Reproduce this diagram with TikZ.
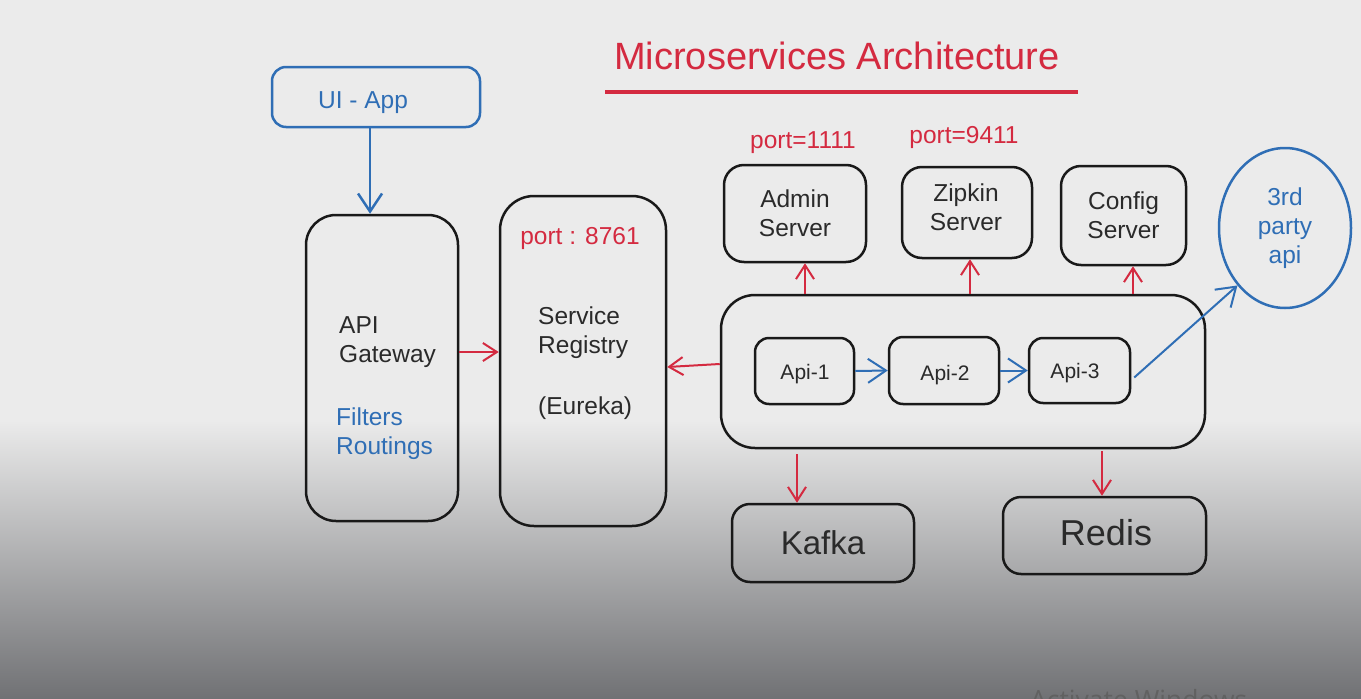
\documentclass[tikz,border=0pt]{standalone}
\usepackage{fontspec}
\setmainfont{Liberation Sans}
\newfontfamily\winfont{Open Sans}
\usetikzlibrary{arrows.meta}
\usetikzlibrary{shapes.geometric}
\definecolor{msred}{HTML}{D42A40}
\definecolor{msblue}{HTML}{2F6EB5}
\definecolor{mstext}{HTML}{2A2A2A}
\definecolor{msbg}{HTML}{EBEBEB}
\definecolor{msbot}{HTML}{707174}
\newcommand{\normtxt}{\fontsize{24.5}{29}\selectfont}
\newcommand{\apitxt}{\fontsize{21}{25}\selectfont}

\tikzset{
  box/.style={draw=black!90, line width=2.5pt, rounded corners=30pt, inner sep=0pt, text=mstext, align=center, font=\normtxt},
  smallbox/.style={box, rounded corners=14pt},
  redarrow/.style={draw=msred, line width=2pt, -{Straight Barb[length=14pt,width=18pt]}},
  bluearrow/.style={draw=msblue, line width=2.5pt, -{Straight Barb[length=18pt,width=24pt]}},
}

\begin{document}
\begin{tikzpicture}[x=1pt,y=-1pt]

\useasboundingbox (0,0) rectangle (1361,699);
\fill[msbg] (0,0) rectangle (1361,421);
\shade[top color=msbg, bottom color=msbot] (0,420) rectangle (1361,699);

\node[text=msred, font=\fontsize{38}{44}\selectfont] (title) at (837,56) {Microservices Architecture};
\draw[msred, line width=3.5pt] (605,92) -- (1078,92);

\node[smallbox, draw=msblue, minimum width=208, minimum height=60] (ui) at (376,97) {};
\node[text=msblue, inner sep=0pt, font=\normtxt] (uitxt) at (363,103) {UI - App};

\node[box, minimum width=152, minimum height=306] (gw) at (382,368) {};
\node[anchor=west, align=left, inner sep=0pt, text=mstext, font=\normtxt] (gwtxt) at (339,342.5) {API\\Gateway};
\node[anchor=west, align=left, inner sep=0pt, text=msblue, font=\normtxt] (gwfilt) at (336,434) {Filters\\Routings};

\node[box, rounded corners=34pt, minimum width=166, minimum height=330] (reg) at (583,361) {};
\node[text=msred, inner sep=0pt, font=\normtxt] (regport) at (580,238) {port : 8761};
\node[anchor=west, align=left, inner sep=0pt, text=mstext, font=\normtxt] (regtxt) at (538,333) {Service\\Registry};
\node[anchor=west, inner sep=0pt, text=mstext, font=\normtxt] (eureka) at (538,408) {(Eureka)};

\node[box, rounded corners=34pt, minimum width=484, minimum height=153] (ms) at (963,371.5) {};
\node[smallbox, minimum width=99, minimum height=66] (api1) at (804.5,371) {};
\node[smallbox, minimum width=110, minimum height=67] (api2) at (944,370.5) {};
\node[smallbox, minimum width=101, minimum height=65] (api3) at (1079.5,370.5) {};
\node[text=mstext, inner sep=0pt, font=\apitxt] (api1txt) at (805,374) {Api-1};
\node[text=mstext, inner sep=0pt, font=\apitxt] (api2txt) at (945,375) {Api-2};
\node[text=mstext, inner sep=0pt, font=\apitxt] (api3txt) at (1075,373) {Api-3};

\node[smallbox, rounded corners=20pt, minimum width=142, minimum height=97] (admin) at (795,213.5) {Admin\\Server};
\node[smallbox, rounded corners=20pt, minimum width=130, minimum height=91] (zipkin) at (967,212.5) {};
\node[text=mstext, align=center, inner sep=0pt, font=\normtxt] (zipkintxt) at (966,207) {Zipkin\\Server};
\node[smallbox, rounded corners=20pt, minimum width=125, minimum height=99] (config) at (1123.5,215.5) {Config\\Server};
\node[text=msred, inner sep=0pt, font=\normtxt] (adminport) at (803,143) {port=1111};
\node[text=msred, inner sep=0pt, font=\normtxt] (zipkinport) at (964,137) {port=9411};

\node[ellipse, draw=msblue, line width=2.5pt, text=msblue, align=center, inner sep=0pt, font=\normtxt, minimum width=132, minimum height=160] (party) at (1285,228) {3rd\\party\\api};

\node[smallbox, rounded corners=18pt, font=\fontsize{33}{38}\selectfont, minimum width=182, minimum height=78] (kafka) at (823,543) {Kafka};
\node[smallbox, rounded corners=18pt, font=\fontsize{36}{40}\selectfont, minimum width=203, minimum height=77] (redis) at (1104.5,535.5) {};
\node[text=mstext, inner sep=0pt, font=\fontsize{36}{40}\selectfont] (redistxt) at (1106,533) {Redis};

\draw[bluearrow] ([xshift=-6pt]ui.south) -- ([xshift=-6pt]ui.south |- gw.north);
\draw[redarrow] ([yshift=16pt]gw.east) -- ([yshift=16pt]gw.east -| reg.west);
\draw[redarrow] ([yshift=7.5pt]ms.west) -- ([yshift=-6pt]reg.east);

\draw[bluearrow, line width=2pt] (api1.east) -- (api2.west);
\draw[bluearrow, line width=2pt] (api2.east) -- (api3.west);
\draw[bluearrow, line width=2pt] ([xshift=3pt,yshift=-7pt]api3.east) -- (party.south west);

\draw[redarrow] ([xshift=10pt]admin.south |- ms.north) -- ([xshift=10pt]admin.south);
\draw[redarrow] ([xshift=3pt]zipkin.south |- ms.north) -- ([xshift=3pt]zipkin.south);
\draw[redarrow] ([xshift=9.5pt]config.south |- ms.north) -- ([xshift=9.5pt]config.south);

\draw[redarrow] ([xshift=-26pt,yshift=-5pt]kafka.north |- ms.south) -- ([xshift=-26pt]kafka.north);
\draw[redarrow] ([xshift=-2.5pt,yshift=-2pt]redis.north |- ms.south) -- ([xshift=-2.5pt]redis.north);

\node[anchor=north west, inner sep=0pt, text=black!62, font=\winfont\fontsize{26.5}{30}\selectfont] (watermark) at (1030,689) {Activate Windows};

\end{tikzpicture}
\end{document}
